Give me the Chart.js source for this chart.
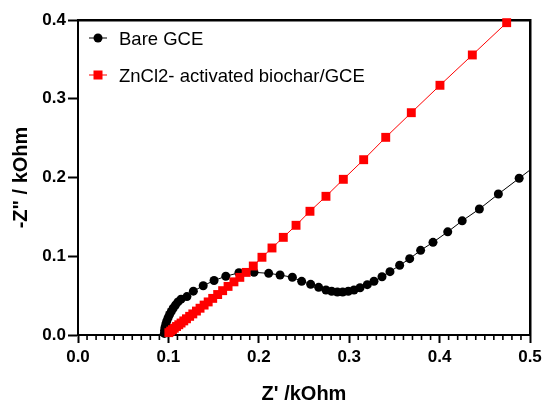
<!DOCTYPE html>
<html>
<head>
<meta charset="utf-8">
<script src="https://cdn.jsdelivr.net/npm/chart.js@4.4.0/dist/chart.umd.min.js"></script>
<style>
  html, body { margin: 0; padding: 0; background: #fff; }
</style>
</head>
<body>
<canvas id="eis" width="544" height="402"></canvas>
<script>
// Nyquist data (Z' and -Z'' in kOhm)
const bareX = [0.0955, 0.0958, 0.0963, 0.0972, 0.0983, 0.0997, 0.1013, 0.1032, 0.1053, 0.1078,
  0.1106, 0.1140, 0.1205, 0.1276, 0.1385, 0.1505, 0.1635, 0.1780, 0.1947, 0.2109,
  0.2235, 0.2371, 0.2474, 0.2574, 0.2662, 0.2743, 0.2806, 0.2869, 0.2928, 0.2990,
  0.3053, 0.3120, 0.3200, 0.3274, 0.3363, 0.3451, 0.3558, 0.3669, 0.3790, 0.3927,
  0.4090, 0.4250, 0.4440, 0.4650, 0.4880, 0.5130];
const bareY = [0.002, 0.006, 0.010, 0.014, 0.018, 0.022, 0.026, 0.030, 0.034, 0.038,
  0.042, 0.0455, 0.0488, 0.0557, 0.0625, 0.0692, 0.0746, 0.0790, 0.0796, 0.0783,
  0.0762, 0.0733, 0.0681, 0.0643, 0.0605, 0.0571, 0.0555, 0.0546, 0.0546, 0.0555,
  0.0571, 0.0600, 0.0639, 0.0682, 0.0740, 0.0804, 0.0885, 0.0969, 0.1075, 0.1177,
  0.1310, 0.1450, 0.1600, 0.1790, 0.1990, 0.2210];

const biocharX = [0.1005, 0.1025, 0.1045, 0.1065, 0.1090, 0.1115, 0.1140, 0.1170, 0.1200, 0.1235,
  0.1270, 0.1310, 0.1350, 0.1395, 0.1440, 0.1490, 0.1545, 0.1600, 0.1660, 0.1725,
  0.1790, 0.1860, 0.1939, 0.2035, 0.2146, 0.2271, 0.2412, 0.2566, 0.2743, 0.2935,
  0.3160, 0.3404, 0.3687, 0.4004, 0.4362, 0.4742];
const biocharY = [0.0030, 0.0050, 0.0068, 0.0086, 0.0108, 0.0130, 0.0152, 0.0179, 0.0206, 0.0237,
  0.0268, 0.0304, 0.0340, 0.0380, 0.0420, 0.0465, 0.0514, 0.0563, 0.0617, 0.0675,
  0.0732, 0.0795, 0.0876, 0.0987, 0.1105, 0.1240, 0.1393, 0.1571, 0.1761, 0.1977,
  0.2226, 0.2510, 0.2823, 0.3171, 0.3556, 0.3966];

const seriesNames = ['Bare GCE', 'ZnCl2- activated biochar/GCE'];
const xTicks = [0, 0.1, 0.2, 0.3, 0.4, 0.5];
const yTicks = [0, 0.1, 0.2, 0.3, 0.4];
const xTitle = "Z' /kOhm";
const yTitle = '-Z" / kOhm';

const FONT = "'Liberation Sans', Arial, Helvetica, sans-serif";

function toPoints(xs, ys) {
  return xs.map((x, i) => ({ x: x, y: ys[i] }));
}

// minor ticks on the x axis, axis titles, legend inside the plot
const decorPlugin = {
  id: 'decor',
  afterDraw(chart) {
    const ctx = chart.ctx;
    const a = chart.chartArea;
    const xs = chart.scales.x;
    ctx.save();
    ctx.fillStyle = '#000';
    for (let i = 1; i < 50; i++) {
      if (i % 10 === 0) continue;
      const px = xs.getPixelForValue(i / 100);
      ctx.fillRect(px - 0.8, a.bottom, 1.6, 5);
    }

    // axis titles
    ctx.font = 'bold 20px ' + FONT;
    ctx.textAlign = 'center';
    ctx.textBaseline = 'alphabetic';
    ctx.fillText(xTitle, (a.left + a.right) / 2, 400);
    ctx.save();
    ctx.translate(27, (a.top + a.bottom) / 2);
    ctx.rotate(-Math.PI / 2);
    ctx.fillText(yTitle, 0, 0);
    ctx.restore();

    // legend rows in the order of seriesNames
    const rows = [38, 75];
    chart.data.datasets.forEach(ds => {
      const y = rows[seriesNames.indexOf(ds.label)];
      ctx.fillStyle = ds.borderColor;
      ctx.fillRect(89, y - 0.5, 18, 1);
      ctx.fillStyle = ds.pointBackgroundColor;
      if (ds.pointStyle === 'rect') {
        ctx.fillRect(98 - 4.5, y - 4.5, 9, 9);
      } else {
        ctx.beginPath();
        ctx.arc(98, y, 4.5, 0, Math.PI * 2);
        ctx.fill();
      }
      ctx.fillStyle = '#000';
      ctx.font = '18.5px ' + FONT;
      ctx.textBaseline = 'alphabetic';
      ctx.textAlign = 'left';
      ctx.fillText(ds.label, 119, y + 7);
    });
    ctx.restore();
  }
};

new Chart(document.getElementById('eis'), {
  type: 'line',
  data: {
    datasets: [
      {
        label: seriesNames[1],
        data: toPoints(biocharX, biocharY),
        borderColor: '#ff0000',
        backgroundColor: '#ff0000',
        pointBackgroundColor: '#ff0000',
        pointBorderColor: '#ff0000',
        pointStyle: 'rect',
        pointRadius: 6.3,
        pointBorderWidth: 0,
        borderWidth: 1,
        tension: 0,
        clip: { left: 6, top: 8, right: 0, bottom: 6 }
      },
      {
        label: seriesNames[0],
        data: toPoints(bareX, bareY),
        borderColor: '#000',
        backgroundColor: '#000',
        pointBackgroundColor: '#000',
        pointBorderColor: '#000',
        pointStyle: 'circle',
        pointRadius: 4.5,
        pointBorderWidth: 0,
        borderWidth: 1,
        tension: 0,
        clip: { left: 6, top: 8, right: 0, bottom: 6 }
      }
    ]
  },
  options: {
    responsive: false,
    animation: false,
    devicePixelRatio: 1,
    layout: { padding: { top: 20, right: 14, left: 0, bottom: 0 } },
    plugins: {
      legend: { display: false },
      tooltip: { enabled: false }
    },
    scales: {
      x: {
        type: 'linear',
        position: 'bottom',
        min: 0,
        max: 0.5,
        afterBuildTicks: s => { s.ticks = xTicks.map(v => ({ value: v })); },
        afterFit: s => { s.height = 67; s.paddingRight = 0; s.paddingLeft = 0; },
        ticks: {
          callback: v => v.toFixed(1),
          color: '#000',
          font: { family: FONT, size: 17, weight: 'bold' },
          padding: 4
        },
        grid: { drawOnChartArea: false, drawTicks: true, tickLength: 8, tickColor: '#000', tickWidth: 2 },
        border: { display: true, color: '#000', width: 2 }
      },
      y: {
        type: 'linear',
        position: 'left',
        min: 0,
        max: 0.4,
        afterBuildTicks: s => { s.ticks = yTicks.map(v => ({ value: v })); },
        afterFit: s => { s.width = 78; s.paddingTop = 0; s.paddingBottom = 0; },
        ticks: {
          callback: v => v.toFixed(1),
          color: '#000',
          font: { family: FONT, size: 17, weight: 'bold' },
          padding: 2
        },
        grid: { drawOnChartArea: false, drawTicks: true, tickLength: 10, tickColor: '#000', tickWidth: 2 },
        border: { display: true, color: '#000', width: 2 }
      },
      // top and right frame of the plot box
      xTop: {
        type: 'linear',
        position: 'top',
        min: 0,
        max: 0.5,
        ticks: { display: false },
        grid: { display: false },
        border: { display: true, color: '#000', width: 2.5 },
        afterFit: s => { s.height = 0; }
      },
      yRight: {
        type: 'linear',
        position: 'right',
        min: 0,
        max: 0.4,
        ticks: { display: false },
        grid: { display: false },
        border: { display: true, color: '#000', width: 2.5 },
        afterFit: s => { s.width = 0; }
      }
    }
  },
  plugins: [decorPlugin]
});
</script>
</body>
</html>
